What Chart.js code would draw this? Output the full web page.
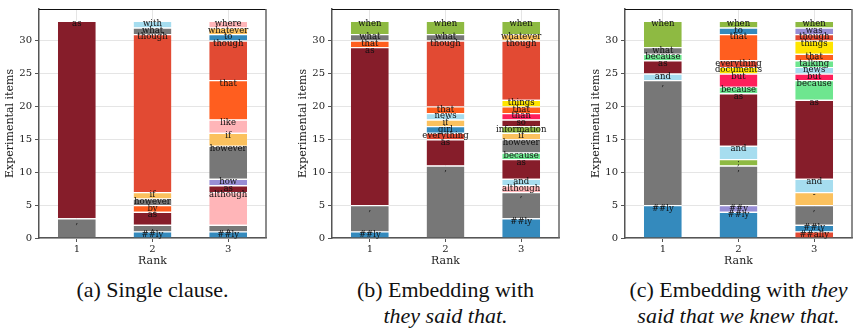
<!DOCTYPE html>
<html>
<head>
<meta charset="utf-8">
<script src="https://cdn.jsdelivr.net/npm/chart.js@4.4.1/dist/chart.umd.min.js"></script>
<style>
  body { margin: 0; background: #fff; width: 858px; height: 328px; position: relative; overflow: hidden; }
  .panel { position: absolute; top: 0; width: 286px; height: 272px; }
  .cap { position: absolute; top: 277px; width: 300px; font-family: 'Liberation Serif', 'Times New Roman', serif;
         font-size: 22px; line-height: 26px; text-align: center; white-space: nowrap; color: #111; }
</style>
</head>
<body>
<div class="panel" style="left:0px"><canvas id="chartA" width="286" height="272"></canvas></div>
<div class="panel" style="left:293px"><canvas id="chartB" width="286" height="272"></canvas></div>
<div class="panel" style="left:586px"><canvas id="chartC" width="286" height="272"></canvas></div>
<div class="cap" style="left:2.5px">(a) Single clause.</div>
<div class="cap" style="left:295.5px">(b) Embedding with<br><i>they said that.</i></div>
<div class="cap" style="left:588.5px">(c) Embedding with <i>they</i><br><i>said that we knew that.</i></div>
<script>
// rank of the bars
var ranks = ['1', '2', '3'];

// (a) single clause: words stacked bottom -> top, per rank
var singleWords = [
    [',', 'as'],
    ['##ly', ',', 'as', 'by', 'however', 'if', 'though', 'what', 'with'],
    ['##ly', ',', 'although', 'as', 'how', 'however', 'if', 'like', 'that', 'though', 'to', 'whatever', 'where']
];
var singleCounts = [
    [3, 30],
    [1, 1, 2, 1, 1, 1, 24, 1, 1],
    [1, 1, 5, 1, 1, 5, 2, 2, 6, 6, 1, 1, 1]
];

// (b) embedding with "they said that."
var saidWords = [
    ['##ly', ',', 'as', 'that', 'what', 'when'],
    [',', 'as', 'everything', 'girl', 'if', 'news', 'that', 'though', 'what', 'when'],
    ['##ly', ',', 'although', 'and', 'as', 'because', 'however', 'if', 'information', 'so', 'than', 'that', 'things', 'though', 'whatever', 'when']
];
var saidCounts = [
    [1, 4, 24, 1, 1, 2],
    [11, 4, 1, 1, 1, 1, 1, 10, 1, 2],
    [3, 4, 1, 1, 3, 1, 2, 1, 1, 1, 1, 1, 1, 9, 1, 2]
];

// (c) embedding with "they said that we knew that."
var knewWords = [
    ['##ly', ',', 'and', 'as', 'because', 'what', 'when'],
    ['##ly', '##y', ',', ';', 'and', 'as', 'because', 'but', 'documents', 'everything', 'that', 'to', 'when'],
    ['##ally', '##ly', ',', '-', 'and', 'as', 'because', 'but', 'news', 'talking', 'that', 'things', 'though', 'was', 'when']
];
var knewCounts = [
    [5, 19, 1, 2, 1, 1, 4],
    [4, 1, 6, 1, 2, 8, 1, 2, 1, 1, 4, 1, 1],
    [1, 1, 3, 2, 2, 12, 3, 1, 1, 1, 1, 2, 1, 1, 1]
];

var wordColors = {
    '##ly': '#348abd', 'to': '#348abd', 'girl': '#348abd',
    'though': '#e24a33', '##ally': '#e24a33', 'everything': '#e24a33',
    'how': '#988ed5', '##y': '#988ed5', 'was': '#988ed5',
    ',': '#777777', 'however': '#777777', 'what': '#777777',
    'if': '#fbc15e', 'whatever': '#fbc15e', '-': '#fbc15e',
    'when': '#8eba42', ';': '#8eba42', 'information': '#8eba42',
    'although': '#ffb5b8', 'like': '#ffb5b8', 'where': '#ffb5b8',
    'as': '#861d2a', 'so': '#861d2a',
    'that': '#ff5e1f', 'by': '#ff5e1f',
    'with': '#a6ddef', 'news': '#a6ddef', 'and': '#a6ddef',
    'because': '#6ee68f', 'talking': '#6ee68f',
    'than': '#ff1f5b', 'but': '#ff1f5b',
    'things': '#ffe500', 'documents': '#ffe500'
};

var serif = 'DejaVu Serif';

function buildDatasets(words, counts) {
    var sets = [];
    words.forEach(function (barWords, bar) {
        var top = 0;
        barWords.forEach(function (w, k) {
            var data = ranks.map(function () { return null; });
            data[bar] = counts[bar][k];
            top += counts[bar][k];
            sets.push({
                label: w,
                data: data,
                top: top,
                backgroundColor: wordColors[w],
                borderColor: '#ffffff',
                borderWidth: { top: 1.2, left: 0, right: 0, bottom: 0 },
                borderSkipped: false,
                barPercentage: 0.5,
                categoryPercentage: 1.0
            });
        });
    });
    return sets;
}

// word written near the top of each segment
var segmentLabels = {
    id: 'segmentLabels',
    afterDatasetsDraw: function (chart) {
        var ctx = chart.ctx, y = chart.scales.y;
        ctx.save();
        ctx.font = '8.5px "' + serif + '"';
        ctx.fillStyle = '#111';
        ctx.textAlign = 'center';
        ctx.textBaseline = 'middle';
        chart.data.datasets.forEach(function (ds, i) {
            chart.getDatasetMeta(i).data.forEach(function (bar, j) {
                if (ds.data[j] == null) return;
                ctx.fillText(ds.label, bar.x, y.getPixelForValue(ds.top - 0.5));
            });
        });
        ctx.restore();
    }
};

var frame = {
    id: 'frame',
    afterDraw: function (chart) {
        var a = chart.chartArea, ctx = chart.ctx;
        ctx.save();
        ctx.lineWidth = 1;
        ctx.strokeStyle = '#111';
        ctx.beginPath();
        ctx.moveTo(a.left, a.top + 0.5);
        ctx.lineTo(a.right, a.top + 0.5);
        ctx.stroke();
        ctx.lineWidth = 1.5;
        ctx.strokeStyle = '#666';
        ctx.beginPath();
        ctx.moveTo(a.right, a.top);
        ctx.lineTo(a.right, a.bottom);
        ctx.stroke();
        ctx.restore();
    }
};

function makeOptions() {
    return {
        responsive: false,
        animation: false,
        layout: { padding: { top: 6, right: 20, left: 0, bottom: 0 } },
        plugins: { legend: { display: false }, tooltip: { enabled: false } },
        scales: {
            x: {
                stacked: true,
                offset: true,
                grid: { offset: false, color: '#e5e5e5', tickColor: '#555', tickLength: 4 },
                border: { color: '#555', width: 1.5 },
                ticks: { font: { family: serif, size: 10 }, color: '#222', padding: 1, maxRotation: 0 },
                title: { display: true, text: 'Rank', font: { family: serif, size: 11 }, color: '#222' },
                afterFit: function (s) { s.height = 34; }
            },
            y: {
                stacked: true,
                min: 0,
                max: 34.8,
                grid: { color: '#e5e5e5', tickColor: '#555', tickLength: 4 },
                border: { color: '#555', width: 1.5 },
                ticks: { stepSize: 5, font: { family: serif, size: 10 }, color: '#222', padding: 3 },
                title: { display: true, text: 'Experimental items', font: { family: serif, size: 11 }, color: '#222' },
                afterBuildTicks: function (s) {
                    s.ticks = s.ticks.filter(function (t) { return t.value % 5 === 0; });
                },
                afterFit: function (s) { s.width = 39; }
            }
        }
    };
}

function drawPanel(id, words, counts) {
    var ctx = document.getElementById(id).getContext('2d');
    return new Chart(ctx, {
        type: 'bar',
        data: { labels: ranks, datasets: buildDatasets(words, counts) },
        options: makeOptions(),
        plugins: [segmentLabels, frame]
    });
}

drawPanel('chartA', singleWords, singleCounts);
drawPanel('chartB', saidWords, saidCounts);
drawPanel('chartC', knewWords, knewCounts);
</script>
</body>
</html>
